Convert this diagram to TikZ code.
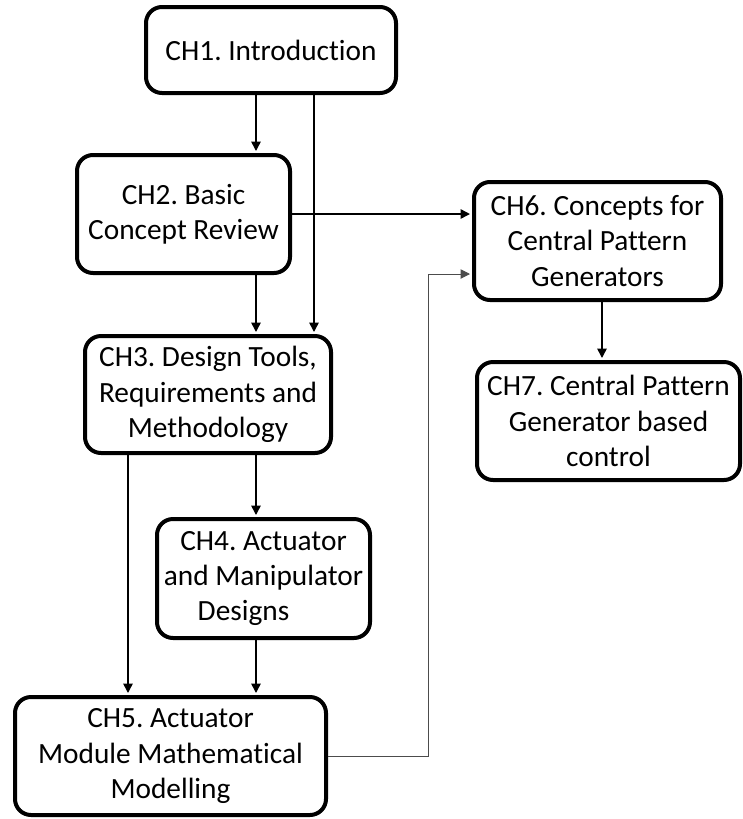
\documentclass[tikz,border=0pt]{standalone}
\usepackage{fontspec}
\setmainfont{Carlito}[Ligatures=NoCommon]
\frenchspacing
\usetikzlibrary{arrows.meta}

\begin{document}
\begin{tikzpicture}[x=0.75pt,y=-0.75pt,
    every node/.style={font=\fontsize{22}{26.4}\selectfont},
    chap/.style={draw,line width=3pt,rounded corners=12pt,align=center,inner sep=0pt},
    arr/.style={-{Triangle[length=7pt,width=7pt]},line width=1.1pt,shorten >=1.5pt}]
    \useasboundingbox (0,0) rectangle (743,819);
    \node[chap,minimum width=187.5pt,minimum height=64.5pt] (ch1) at (271,50) {CH1. Introduction};
    \node[chap,minimum width=159.75pt,minimum height=88.5pt] (ch2) at (183.5,214) {CH2. Basic\\Concept Review};
    \node[chap,minimum width=184.5pt,minimum height=87.75pt] (ch3) at (208,394.5) {CH3. Design Tools,\\Requirements and\\Methodology};
    \node[chap,minimum width=159.75pt,minimum height=89.25pt] (ch4) at (263.5,578.5) {CH4. Actuator\\and Manipulator\\Designs\hspace*{30pt}\mbox{}};
    \node[chap,minimum width=233.25pt,minimum height=88.5pt] (ch5) at (170.5,756) {CH5. Actuator\\Module Mathematical\\Modelling};
    \node[chap,minimum width=185.25pt,minimum height=88.5pt] (ch6) at (597.5,241) {CH6. Concepts for\\Central Pattern\\Generators};
    \node[chap,minimum width=197.25pt,minimum height=88.5pt] (ch7) at (608.5,421) {CH7. Central Pattern\\Generator based\\control};
    % lanes for the vertical links
    \coordinate (midlane) at (256,0);
    \coordinate (farlane) at (314,0);
    \coordinate (leftlane) at (128,0);
    \coordinate (cpglane) at (602,0);
    \coordinate (bend) at (428,274);
    \draw[arr] (ch1.south -| midlane) -- (ch2.north -| midlane);
    \draw[arr] (ch1.south -| farlane) -- (ch3.north -| farlane);
    \draw[arr] (ch2.south -| midlane) -- (ch3.north -| midlane);
    \draw[arr] (ch2.east) -- (ch2.east -| ch6.west);
    \draw[arr] (ch3.south -| midlane) -- (ch4.north -| midlane);
    \draw[arr] (ch3.south -| leftlane) -- (ch5.north -| leftlane);
    \draw[arr] (ch4.south -| midlane) -- (ch5.north -| midlane);
    \draw[arr,line width=0.75pt,black!70] (ch5.east) -| (bend) -- (bend -| ch6.west);
    \draw[arr] (ch6.south -| cpglane) -- (ch7.north -| cpglane);
\end{tikzpicture}
\end{document}
